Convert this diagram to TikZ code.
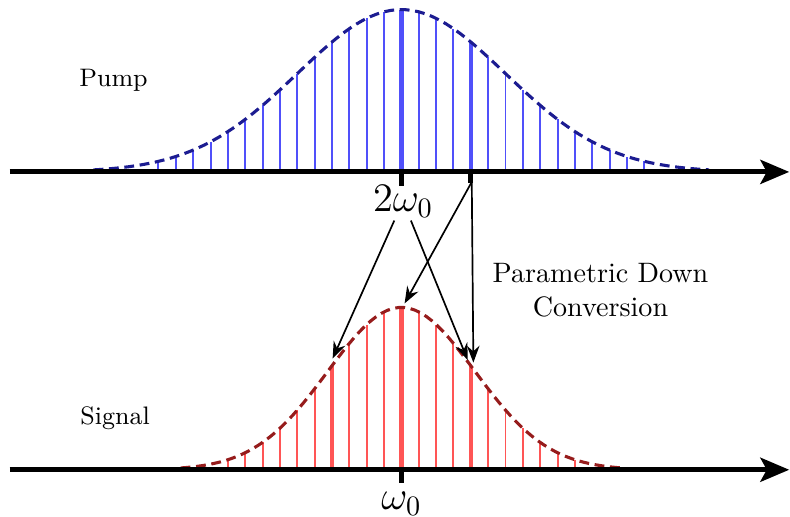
\documentclass[tikz,border=0pt]{standalone}
\usepackage{amsmath}
\usepackage{tikz}
\usetikzlibrary{arrows.meta, positioning, calc}
\definecolor{pumpblue}{RGB}{80,80,250}
\definecolor{pumpdark}{RGB}{28,28,145}
\definecolor{sigred}{RGB}{255,85,85}
\definecolor{sigdark}{RGB}{150,28,28}

\begin{document}
\begin{tikzpicture}[
  axis/.style={line width=1.8pt, -{Stealth[length=0.36cm, width=0.3cm, inset=0.08cm]}},
  tickmark/.style={line width=1.8pt},
  pumpline/.style={pumpblue, line width=0.7pt},
  sigline/.style={sigred, line width=0.7pt},
  pumpcurve/.style={pumpdark, line width=1.1pt, dash pattern=on 3.5pt off 2pt},
  sigcurve/.style={sigdark, line width=1.1pt, dash pattern=on 3.5pt off 2pt},
  conv/.style={-{Stealth[length=6pt, width=4.5pt, inset=2pt]}, line width=0.6pt},
  lbl/.style={font=\small},
]
\useasboundingbox (-5.02,-0.59) rectangle (4.86,5.875);

% pump spectrum (top), sigma = 1.3
\foreach \k in {-14,...,14}{
  \pgfmathsetmacro\h{2.03*exp(-0.5*(\k*0.217/1.3)*(\k*0.217/1.3))}
  \draw[pumpline] (\k*0.217,3.725) -- ++(0,\h);
}
\foreach \k in {0,4}{
  \pgfmathsetmacro\h{2.03*exp(-0.5*(\k*0.217/1.3)*(\k*0.217/1.3))}
  \draw[pumpline, line width=1.5pt] (\k*0.217,3.725) -- ++(0,\h);
}
\draw[pumpcurve] plot[domain=-3.85:3.85, samples=90] (\x,{3.725+2.03*exp(-0.5*(\x/1.3)*(\x/1.3))});

% signal spectrum (bottom), sigma = 0.92
\foreach \k in {-10,...,10}{
  \pgfmathsetmacro\h{2.03*exp(-0.5*(\k*0.217/0.92)*(\k*0.217/0.92))}
  \draw[sigline] (\k*0.217,0) -- ++(0,\h);
}
\foreach \k in {-4,0,4}{
  \pgfmathsetmacro\h{2.03*exp(-0.5*(\k*0.217/0.92)*(\k*0.217/0.92))}
  \draw[sigline, line width=1.5pt] (\k*0.217,0) -- ++(0,\h);
}
\draw[sigcurve] plot[domain=-2.76:2.76, samples=80] (\x,{2.03*exp(-0.5*(\x/0.92)*(\x/0.92))});

% axes
\coordinate (pumpstart) at (-4.9,3.725);
\coordinate (pumpend) at (4.85,3.725);
\coordinate (sigstart) at (-4.9,0);
\coordinate (sigend) at (4.85,0);
\draw[axis] (pumpstart) -- (pumpend);
\draw[axis] (sigstart) -- (sigend);
\draw[tickmark] (0,3.725) -- ++(0,-0.17);
\draw[tickmark] (0.868,3.725) -- ++(0,-0.14);
\draw[tickmark] (0,0) -- ++(0,-0.17);

% labels
\node[lbl] (pump) at (-3.6,4.87) {Pump};
\node[lbl] (signal) at (-3.58,0.65) {Signal};
\node[font=\Large, inner sep=1pt] (twow) at (0.02,3.36) {$2\omega_0$};
\node[font=\Large] (onew) at (0,-0.42) {$\omega_0$};
\node[align=center] (pdc) at (2.49,2.25) {Parametric Down\\Conversion};

% conversion arrows
\coordinate (pumpside) at (0.88,3.6);
\coordinate (sigleft) at (-0.86,1.39);
\coordinate (sigright) at (0.83,1.37);
\coordinate (sigpeak) at (0.04,2.08);
\coordinate (sigside) at (0.9,1.34);
\draw[conv] (twow) -- (sigleft);
\draw[conv] (twow) -- (sigright);
\draw[conv] (pumpside) -- (sigpeak);
\draw[conv] (pumpside) -- (sigside);

\end{tikzpicture}
\end{document}
